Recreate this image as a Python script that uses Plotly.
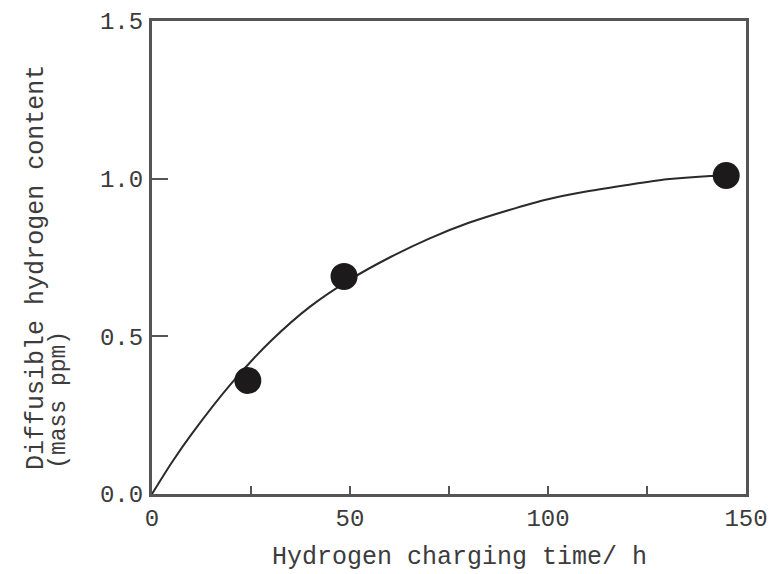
import plotly.graph_objects as go

# Measured diffusible hydrogen content vs. charging time
charge_time_h = [24.2, 48.5, 145.0]
hydrogen_ppm = [0.36, 0.69, 1.01]

# Fitted trend curve (points along the drawn curve)
curve_time_h = [0, 5, 10, 20, 30, 40, 50, 60, 70, 80, 90, 100, 110, 120, 130, 140, 145]
curve_ppm = [0.0, 0.10, 0.19, 0.35, 0.485, 0.595, 0.68, 0.75, 0.81, 0.86, 0.90, 0.935,
             0.96, 0.98, 0.998, 1.008, 1.01]

x_tickvals = [0, 25, 50, 75, 100, 125, 150]
x_ticktext = ["0", "", "50", "", "100", "", "150"]
y_tickvals = [0.0, 0.5, 1.0, 1.5]
y_ticktext = ["0.0", "0.5", "1.0", "1.5"]

FONT = "Liberation Mono"
TEXT_COLOR = "#3c3c3c"
AXIS_COLOR = "#555555"

fig = go.Figure()
fig.add_trace(go.Scatter(
    x=curve_time_h, y=curve_ppm, mode="lines",
    line=dict(color="#2a2a2a", width=2, shape="spline", smoothing=0.8),
    hoverinfo="skip", showlegend=False,
))
fig.add_trace(go.Scatter(
    x=charge_time_h, y=hydrogen_ppm, mode="markers",
    marker=dict(size=27, color="#1c1a1a"),
    showlegend=False,
))

fig.update_layout(
    width=769, height=574,
    margin=dict(l=152, r=23, t=21, b=80),
    paper_bgcolor="white", plot_bgcolor="white",
    font=dict(family=FONT, size=24, color=TEXT_COLOR),
)
fig.update_xaxes(
    range=[0, 150], showgrid=False, zeroline=False, automargin=False,
    showline=True, linewidth=3, linecolor=AXIS_COLOR, mirror=True,
    ticks="inside", ticklen=8, tickwidth=2, tickcolor=AXIS_COLOR,
    tickvals=x_tickvals, ticktext=x_ticktext,
    tickfont=dict(family=FONT, size=24, color=TEXT_COLOR),
)
fig.update_yaxes(
    range=[0, 1.5], showgrid=False, zeroline=False, automargin=False,
    showline=True, linewidth=3, linecolor=AXIS_COLOR, mirror=True,
    ticks="inside", ticklen=16, tickwidth=2, tickcolor=AXIS_COLOR,
    tickvals=y_tickvals, ticktext=y_ticktext, ticklabelstandoff=1,
    tickfont=dict(family=FONT, size=24, color=TEXT_COLOR),
)

# Axis titles
fig.add_annotation(
    text="Hydrogen charging time/ h", xref="paper", yref="paper",
    x=0.5185, y=-0.134, xanchor="center", yanchor="middle",
    showarrow=False, borderpad=0,
    font=dict(family=FONT, size=25, color=TEXT_COLOR),
)
fig.add_annotation(
    text="Diffusible hydrogen content", xref="paper", yref="paper",
    x=-0.1936, y=0.478, xanchor="center", yanchor="middle", textangle=-90,
    showarrow=False, font=dict(family=FONT, size=25, color=TEXT_COLOR),
)
fig.add_annotation(
    text="(mass ppm)", xref="paper", yref="paper",
    x=-0.1566, y=0.199, xanchor="center", yanchor="middle", textangle=-90,
    showarrow=False, font=dict(family=FONT, size=23, color=TEXT_COLOR),
)

fig.write_html("out.html")
